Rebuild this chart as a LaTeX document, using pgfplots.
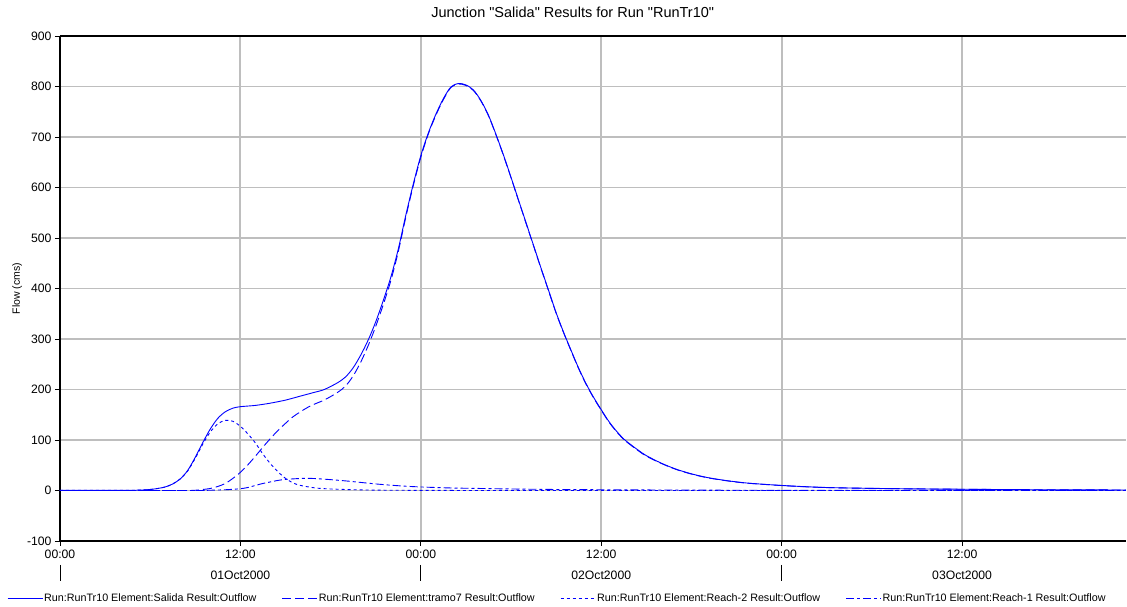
\documentclass[border=0pt]{standalone}
\usepackage{fontspec}
\setmainfont{Liberation Sans}
\usepackage{pgfplots}
\pgfplotsset{compat=1.18}
\usetikzlibrary{calc}
\definecolor{hecblue}{HTML}{0000FF}
\definecolor{hecgrid}{HTML}{BEBEBE}

\begin{document}
\begin{tikzpicture}[x=1pt,y=1pt]
\begin{axis}[
  scale only axis, width=1066pt, height=505pt,
  at={(0pt,0pt)}, anchor=south west,
  xmin=0, xmax=70.9, ymin=-100, ymax=900,
  xtick={0,12,24,36,48,60},
  xticklabels={00:00,12:00,00:00,12:00,00:00,12:00},
  ytick={-100,0,100,200,300,400,500,600,700,800,900},
  axis x line=box, axis y line=left,
  axis line style={-, black, line width=1.2pt},
  y axis line style={-},
  xtick pos=bottom, ytick pos=left,
  tick align=outside, major tick length=5pt,
  tick style={black, line width=0.8pt},
  grid=major,
  x grid style={hecgrid, line width=2pt},
  y grid style={hecgrid, line width=1.3pt},
  ticklabel style={font=\fontsize{12.2}{14}\selectfont},
  /pgf/number format/assume math mode=true,
  xticklabel style={yshift=-0.5pt},
  ylabel={Flow (cms)},
  ylabel style={font=\fontsize{10.5}{12}\selectfont, at={(axis description cs:-0.0403,0.5)}, anchor=center},
  title={Junction \textquotedbl Salida\textquotedbl{} Results for Run \textquotedbl RunTr10\textquotedbl},
  title style={font=\fontsize{14.5}{16}\selectfont, at={(axis description cs:0.481,1.035)}, anchor=center},
  legend columns=4,
  legend style={draw=none, fill=none, at={(-0.0497,-0.1129)}, anchor=west,
    font=\fontsize{10.75}{12}\selectfont, inner sep=0pt, row sep=0pt,
    nodes={inner xsep=1pt, inner ysep=1pt},
    /tikz/every even column/.append style={column sep=24.5pt}},
  legend image code/.code={\draw[#1] (0pt,0pt) -- (35pt,0pt);},
  every axis plot/.append style={hecblue, line width=0.9pt},
]
% Salida (total outflow)
\addplot[smooth, tension=0.5] coordinates {
  (0,0.2) (4,0.2) (5,0.5) (5.5,1) (6,2) (6.5,4) (7,7) (7.5,13) (8,23) (8.5,40) (9,66)
  (9.5,95) (10,122) (10.5,143) (11,156) (11.5,163) (12,166) (13,168.5) (14,173)
  (15,179) (16,187) (17,195) (17.5,199) (18,206) (18.5,214) (19,225) (19.5,243)
  (20,268) (20.5,298) (21,334) (21.5,376) (22,422) (22.5,478) (23,545) (23.5,607)
  (24,663) (24.5,708) (25,745) (25.5,776) (26,799) (26.5,806) (27,803) (27.5,793)
  (28,772) (28.5,743) (29,705) (29.5,664) (30,620) (30.5,575) (31,530) (31.5,485)
  (32,440) (32.5,396) (33,352) (33.5,313) (34,277) (34.5,242) (35,211) (35.5,184)
  (36,160) (36.5,137) (37,118) (37.5,102) (38,90) (38.5,79) (39,69) (40,54) (41,42)
  (42,33) (43,26) (44,21) (45,17) (46,14) (48,10) (50,7) (52,5.2) (56,3.5) (60,2.5)
  (65,1.5) (70.9,1)};
\addlegendentry{Run:RunTr10 Element:Salida Result:Outflow}

% tramo7
\addplot[smooth, tension=0.5, dash pattern=on 9pt off 4pt] coordinates {
  (0,0) (8,0) (9,0.5) (9.5,2) (10,4) (10.5,8) (11,14) (11.5,24) (12,36) (12.5,51)
  (13,68) (13.5,86) (14,103) (14.5,119) (15,133) (15.5,146) (16,156) (16.5,165)
  (17,172) (17.5,178) (18,186) (18.5,195) (19,207) (19.5,227) (20,254) (20.5,287)
  (21,325) (21.5,368) (22,415) (22.5,473) (23,541) (23.5,604) (24,660) (24.5,706)
  (25,743) (25.5,774) (26,798) (26.5,805) (27,802) (27.5,792) (28,771) (28.5,742)
  (29,704) (29.5,663) (30,619) (30.5,574) (31,529) (31.5,484) (32,439) (32.5,395)
  (33,351) (33.5,312) (34,276) (34.5,241) (35,210) (35.5,183) (36,159) (36.5,136)
  (37,117) (37.5,101) (38,89) (38.5,78) (39,68) (40,53.5) (41,41.5) (42,32.5)
  (43,25.6) (44,20.7) (45,16.7) (46,13.8) (48,9.8) (50,6.8) (52,5.1) (56,3.4)
  (60,2.4) (65,1.5) (70.9,1)};
\addlegendentry{Run:RunTr10 Element:tramo7 Result:Outflow}

% Reach-2
\addplot[smooth, tension=0.5, dash pattern=on 3pt off 3pt] coordinates {
  (0,0.2) (4,0.2) (5,0.5) (5.5,1) (6,2) (6.5,4) (7,7) (7.5,13) (8,23) (8.5,39) (9,64)
  (9.5,92) (10,116) (10.5,132) (11,139) (11.5,137) (12,127) (12.5,112) (13,94)
  (13.5,72) (14,53) (14.5,37) (15,24) (15.5,15) (16,10) (17,5) (18,3) (20,1.2)
  (22,0.5) (26,0.2) (30,0) (70.9,0)};
\addlegendentry{Run:RunTr10 Element:Reach-2 Result:Outflow}

% Reach-1
\addplot[smooth, tension=0.5, dash pattern=on 8pt off 3pt on 3pt off 3pt] coordinates {
  (0,0) (9,0) (9.5,0.2) (10,0.5) (11,1.5) (12,3.5) (12.5,6) (13,10) (13.5,14)
  (14,17) (14.5,20) (15,22) (15.5,23) (16,23.8) (16.5,24) (17,23.6) (18,21.5)
  (19,19) (20,16) (21,13) (22,10.5) (23,8.5) (24,7) (26,5) (28,4) (30,3) (33,2)
  (36,1.5) (40,1) (45,0.5) (50,0.3) (70.9,0)};
\addlegendentry{Run:RunTr10 Element:Reach-1 Result:Outflow}

\coordinate (ll) at (rel axis cs:0,0);
\coordinate (d0) at (axis cs:0,-100);
\coordinate (d1) at (axis cs:24,-100);
\coordinate (d2) at (axis cs:48,-100);
\coordinate (m0) at (axis cs:12,-100);
\coordinate (m1) at (axis cs:36,-100);
\coordinate (m2) at (axis cs:60,-100);
\end{axis}
% day boundaries and date labels below the time axis
\draw[black, line width=0.8pt] ($(d0)+(0,-24pt)$) -- ++(0,-16pt);
\draw[black, line width=0.8pt] ($(d1)+(0,-24pt)$) -- ++(0,-16pt);
\draw[black, line width=0.8pt] ($(d2)+(0,-24pt)$) -- ++(0,-16pt);
\node[font=\fontsize{12.2}{14}\selectfont] at ($(m0)+(0,-34pt)$) {01Oct2000};
\node[font=\fontsize{12.2}{14}\selectfont] at ($(m1)+(0,-34pt)$) {02Oct2000};
\node[font=\fontsize{12.2}{14}\selectfont] at ($(m2)+(0,-34pt)$) {03Oct2000};
\pgfresetboundingbox
\path[use as bounding box] ($(ll)+(-60pt,-66pt)$) rectangle ($(ll)+(1067pt,541pt)$);
\end{tikzpicture}
\end{document}
